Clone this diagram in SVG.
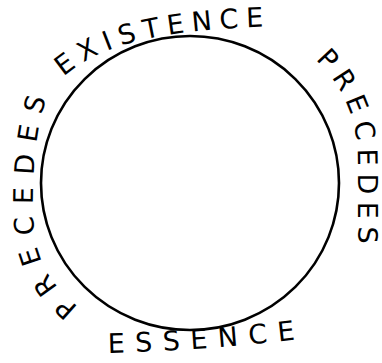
<svg xmlns="http://www.w3.org/2000/svg" width="382" height="363" viewBox="0 0 382 363">
<style>
.t{font-family:"DejaVu Sans","Liberation Sans",sans-serif;font-size:27px;fill:#000}
.ring{fill:none;stroke:#000;stroke-width:2.6}
</style>
<defs>
<path id="pTop" d="M62,78 C100,46 150,29 284,26"/>
<path id="pRight" d="M305,50 C335,75 358,110 358,160 L358,262"/>
<path id="pLeft" d="M80,308 C35,272 32,240 33,190 C34,150 38,120 50,88"/>
<path id="pBottom" d="M104,353 Q200,351 300,339"/>
</defs>
<rect width="382" height="363" fill="#fff"/>
<g id="circle"><ellipse class="ring" cx="190" cy="183" rx="149" ry="147"/></g>
<g id="existence"><text class="t"><textPath href="#pTop" startOffset="2" textLength="210" lengthAdjust="spacing">EXISTENCE</textPath></text></g>
<g id="precedes-right"><text class="t"><textPath href="#pRight" startOffset="14" textLength="196" lengthAdjust="spacing">PRECEDES</textPath></text></g>
<g id="essence"><text class="t"><textPath href="#pBottom" startOffset="4" textLength="188" lengthAdjust="spacing">ESSENCE</textPath></text></g>
<g id="precedes-left"><text class="t"><textPath href="#pLeft" startOffset="2" textLength="224" lengthAdjust="spacing">PRECEDES</textPath></text></g>
</svg>
